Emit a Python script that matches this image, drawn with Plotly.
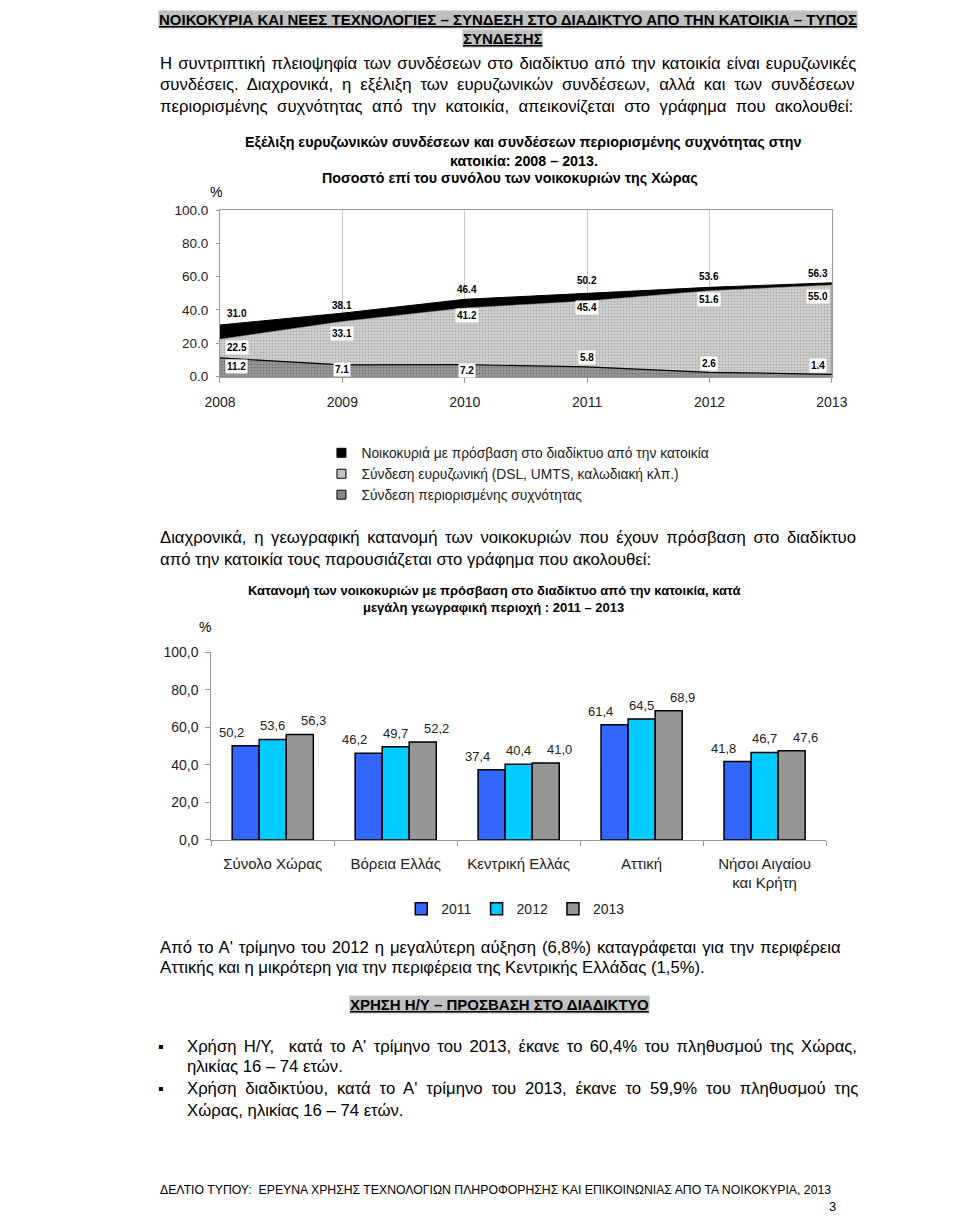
import plotly.graph_objects as go

W, H = 960, 1226
def px(x): return x / W
def py(y): return 1 - y / H

# ---------------- Chart 1 data ----------------
years = [2008, 2009, 2010, 2011, 2012, 2013]
access = [31.0, 38.1, 46.4, 50.2, 53.6, 56.3]
broadband = [22.5, 33.1, 41.2, 45.4, 51.6, 55.0]
narrowband = [11.2, 7.1, 7.2, 5.8, 2.6, 1.4]
series1_names = ["Νοικοκυριά με πρόσβαση στο διαδίκτυο από την κατοικία",
                 "Σύνδεση ευρυζωνική (DSL, UMTS, καλωδιακή κλπ.)",
                 "Σύνδεση περιορισμένης συχνότητας"]
y1_ticks = [0, 20, 40, 60, 80, 100]

# ---------------- Chart 2 data ----------------
regions = ["Σύνολο Χώρας", "Βόρεια Ελλάς", "Κεντρική Ελλάς", "Αττική", "Νήσοι Αιγαίου<br>και Κρήτη"]
bar_years = ["2011", "2012", "2013"]
v2011 = [50.2, 46.2, 37.4, 61.4, 41.8]
v2012 = [53.6, 49.7, 40.4, 64.5, 46.7]
v2013 = [56.3, 52.2, 41.0, 68.9, 47.6]
y2_ticks = [0, 20, 40, 60, 80, 100]

# ---------------- styles ----------------
F = "Liberation Sans, Arial, sans-serif"
TXT = "#000000"
AX = "#9a9a9a"
BODY = 16.7

fig = go.Figure()

# chart 1 areas
fig.add_trace(go.Scatter(x=years, y=access, mode="lines", fill="tozeroy",
                         fillcolor="#000000", line=dict(color="#000000", width=1),
                         showlegend=False, xaxis="x", yaxis="y", hoverinfo="skip"))
fig.add_trace(go.Scatter(x=years, y=broadband, mode="lines", fill="tozeroy",
                         fillcolor="#c4c4c4",
                         fillpattern=dict(shape=".", bgcolor="#d0d0d0", fgcolor="#8a8a8a", size=3, solidity=0.35),
                         line=dict(color="#9a9a9a", width=0.5),
                         showlegend=False, xaxis="x", yaxis="y", hoverinfo="skip"))
fig.add_trace(go.Scatter(x=years, y=narrowband, mode="lines", fill="tozeroy",
                         fillcolor="#888888",
                         fillpattern=dict(shape=".", bgcolor="#9a9a9a", fgcolor="#4a4a4a", size=3, solidity=0.35),
                         line=dict(color="#000000", width=1.2),
                         showlegend=False, xaxis="x", yaxis="y", hoverinfo="skip"))
# legend entries for chart 1
leg_cols = ["#000000", "#c4c4c4", "#8a8a8a"]
for nm, c in zip(series1_names, leg_cols):
    fig.add_trace(go.Scatter(x=[None], y=[None], mode="markers", name=nm,
                             marker=dict(symbol="square", size=9, color=c, line=dict(color="#000", width=1)),
                             xaxis="x", yaxis="y", legend="legend"))

# chart 2 bars
bar_cols = ["#3366ff", "#00ccff", "#969696"]
for yr, vals, c in zip(bar_years, [v2011, v2012, v2013], bar_cols):
    fig.add_trace(go.Bar(x=regions, y=vals, name=yr, marker=dict(color=c, line=dict(color="#000", width=1.5)),
                         xaxis="x2", yaxis="y2", legend="legend2", hoverinfo="skip"))

ann = []
# chart 1 value labels
acc_dy = [11, 8, 10, 12, 11, 9]
bb_dy = [-8, -12, -8, -7, -9, -12]
nb_dy = [-9, -5, -6, 9, 9, 9]
lbl_dx = [17, 0, 2, 0, 0, -14]
for i, yr in enumerate(years):
    ann.append(dict(x=yr, y=access[i], xref="x", yref="y", text=f"<b>{access[i]:.1f}</b>", showarrow=False,
                    xshift=lbl_dx[i], yshift=acc_dy[i], font=dict(family=F, size=10, color="#000")))
    ann.append(dict(x=yr, y=broadband[i], xref="x", yref="y", text=f"<b>{broadband[i]:.1f}</b>", showarrow=False,
                    xshift=lbl_dx[i], yshift=bb_dy[i], bgcolor="#ffffff", borderpad=1,
                    font=dict(family=F, size=10, color="#000")))
    ann.append(dict(x=yr, y=narrowband[i], xref="x", yref="y", text=f"<b>{narrowband[i]:.1f}</b>", showarrow=False,
                    xshift=lbl_dx[i], yshift=nb_dy[i], bgcolor="#ffffff", borderpad=1,
                    font=dict(family=F, size=10, color="#000")))

# chart 2 value labels
bar_dx = [-41, 0, 41]
for k, vals in enumerate([v2011, v2012, v2013]):
    for r, v in zip(regions, vals):
        ann.append(dict(x=r, y=v, xref="x2", yref="y2", text=f"{v:.1f}".replace(".", ","), showarrow=False,
                        xshift=bar_dx[k], yshift=4, yanchor="bottom",
                        font=dict(family=F, size=13, color="#222")))

def line(txt, x, y, size=BODY, ws=0, anchor="left", bg=None, color=TXT):
    if ws:
        txt = f"<span style='word-spacing:{ws}px'>{txt}</span>"
    d = dict(x=px(x), y=py(y), xref="paper", yref="paper", text=txt, showarrow=False,
             xanchor=anchor, yanchor="middle", font=dict(family=F, size=size, color=color))
    if bg:
        d.update(bgcolor=bg, borderpad=0)
    ann.append(d)

# page heading
line("<b><u>ΝΟΙΚΟΚΥΡΙΑ ΚΑΙ ΝΕΕΣ ΤΕΧΝΟΛΟΓΙΕΣ – ΣΥΝΔΕΣΗ ΣΤΟ ΔΙΑΔΙΚΤΥΟ ΑΠΟ ΤΗΝ ΚΑΤΟΙΚΙΑ – ΤΥΠΟΣ</u></b>",
     147, 12, size=15, bg="#c0c0c0")
line("<b><u>ΣΥΝΔΕΣΗΣ</u></b>", 503, 31, size=15, bg="#c0c0c0", anchor="center")

# paragraph 1
line("Η συντριπτική πλειοψηφία των συνδέσεων στο διαδίκτυο από την κατοικία είναι ευρυζωνικές", 147, 56, ws=1.6)
line("συνδέσεις. Διαχρονικά, η εξέλιξη των ευρυζωνικών συνδέσεων, αλλά και των συνδέσεων", 147, 78, ws=4.3)
line("περιορισμένης συχνότητας από την κατοικία, απεικονίζεται στο γράφημα που ακολουθεί:", 147, 100, ws=4.8)

# chart 1 title
line("<b>Εξέλιξη ευρυζωνικών συνδέσεων και συνδέσεων περιορισμένης συχνότητας στην</b>", 525, 136, size=14.3, anchor="center")
line("<b>κατοικία: 2008 – 2013.</b>", 525, 155, size=14.3, anchor="center")
line("<b>Ποσοστό επί του συνόλου των νοικοκυριών της Χώρας</b>", 511, 172, size=14.3, anchor="center")
line("%", 207, 186, size=14, anchor="center")

# paragraph 2
line("Διαχρονικά, η γεωγραφική κατανομή των νοικοκυριών που έχουν πρόσβαση στο διαδίκτυο", 147, 537, ws=3.0)
line("από την κατοικία τους παρουσιάζεται στο γράφημα που ακολουθεί:", 147, 559)

# chart 2 title
line("<b>Κατανομή των νοικοκυριών με πρόσβαση στο διαδίκτυο από την κατοικία, κατά</b>", 494, 590, size=13, anchor="center")
line("<b>μεγάλη γεωγραφική περιοχή : 2011 – 2013</b>", 494, 607, size=13, anchor="center")
line("%", 195, 627, size=14, anchor="center")

# paragraph 3
line("Από το Α' τρίμηνο του 2012 η μεγαλύτερη αύξηση (6,8%) καταγράφεται για την περιφέρεια", 147, 952, ws=1.3)
line("Αττικής και η μικρότερη για την περιφέρεια της Κεντρικής Ελλάδας (1,5%).", 147, 972)

# heading 2
line("<b><u>ΧΡΗΣΗ Η/Υ – ΠΡΟΣΒΑΣΗ ΣΤΟ ΔΙΑΔΙΚΤΥΟ</u></b>", 500, 1010, size=15, bg="#c0c0c0", anchor="center")

# bullets
line("▪", 150, 1052, size=16, anchor="center")
line("Χρήση Η/Υ,  κατά το Α' τρίμηνο του 2013, έκανε το 60,4% του πληθυσμού της Χώρας,", 175, 1052, ws=2.7)
line("ηλικίας 16 – 74 ετών.", 175, 1073)
line("▪", 150, 1095, size=16, anchor="center")
line("Χρήση διαδικτύου, κατά το Α' τρίμηνο του 2013, έκανε το 59,9% του πληθυσμού της", 175, 1095, ws=4.2)
line("Χώρας, ηλικίας 16 – 74 ετών.", 175, 1117)

# footer
line("ΔΕΛΤΙΟ ΤΥΠΟΥ:  ΕΡΕΥΝΑ ΧΡΗΣΗΣ ΤΕΧΝΟΛΟΓΙΩΝ ΠΛΗΡΟΦΟΡΗΣΗΣ ΚΑΙ ΕΠΙΚΟΙΝΩΝΙΑΣ ΑΠΟ ΤΑ ΝΟΙΚΟΚΥΡΙΑ, 2013", 147, 1198, size=12.25)
line("3", 845, 1214, size=13, anchor="center")

fig.update_layout(
    width=W, height=H, autosize=False,
    margin=dict(l=0, r=0, t=0, b=0),
    paper_bgcolor="white", plot_bgcolor="white",
    font=dict(family=F, color="#222"),
    annotations=ann,
    barmode="group", bargap=0.34, bargroupgap=0,
    xaxis=dict(domain=[px(211), px(844)], range=[2008, 2013], tickvals=years,
               ticktext=[str(y) for y in years], showgrid=True, gridcolor="#c8c8c8", gridwidth=1,
               showline=True, linecolor=AX, mirror=True, ticks="outside", ticklen=5, tickcolor=AX,
               tickfont=dict(size=14, family=F, color="#222"), ticklabelstandoff=8,
               zeroline=False, anchor="y", fixedrange=True),
    yaxis=dict(domain=[py(373.5), py(204.7)], range=[0, 100], tickvals=y1_ticks, tickformat=".1f",
               showgrid=False, showline=True, linecolor=AX, mirror=True, ticks="outside", ticklen=3,
               tickcolor=AX, tickfont=dict(size=13.5, family=F, color="#222"), ticklabelstandoff=5,
               zeroline=False, anchor="x", fixedrange=True),
    xaxis2=dict(domain=[px(202), px(838)], showgrid=False, showline=True, linecolor=AX,
                ticks="outside", tickson="boundaries", ticklen=5, tickcolor=AX,
                tickfont=dict(size=15, family=F, color="#222"), ticklabelstandoff=10,
                anchor="y2", fixedrange=True),
    yaxis2=dict(domain=[py(843), py(653)], range=[0, 100], tickvals=y2_ticks,
                ticktext=[f"{t:.1f}".replace(".", ",") for t in y2_ticks],
                showgrid=False, showline=True, linecolor=AX, ticks="outside", ticklen=5, tickcolor=AX,
                tickfont=dict(size=14, family=F, color="#222"), ticklabelstandoff=4,
                zeroline=False, anchor="x2", fixedrange=True),
    legend=dict(x=px(316), y=py(435), xanchor="left", yanchor="top", orientation="v",
                font=dict(size=13.8, family=F, color="#222"), bgcolor="rgba(0,0,0,0)",
                itemwidth=30, tracegroupgap=0),
    legend2=dict(x=px(517), y=py(913), xanchor="center", yanchor="middle", orientation="h",
                 font=dict(size=14, family=F, color="#222"), bgcolor="rgba(0,0,0,0)", itemwidth=30),
)

fig.write_html("out.html", config={"displayModeBar": False},
               post_script="document.body.style.margin='0';document.body.style.overflow='hidden';")
